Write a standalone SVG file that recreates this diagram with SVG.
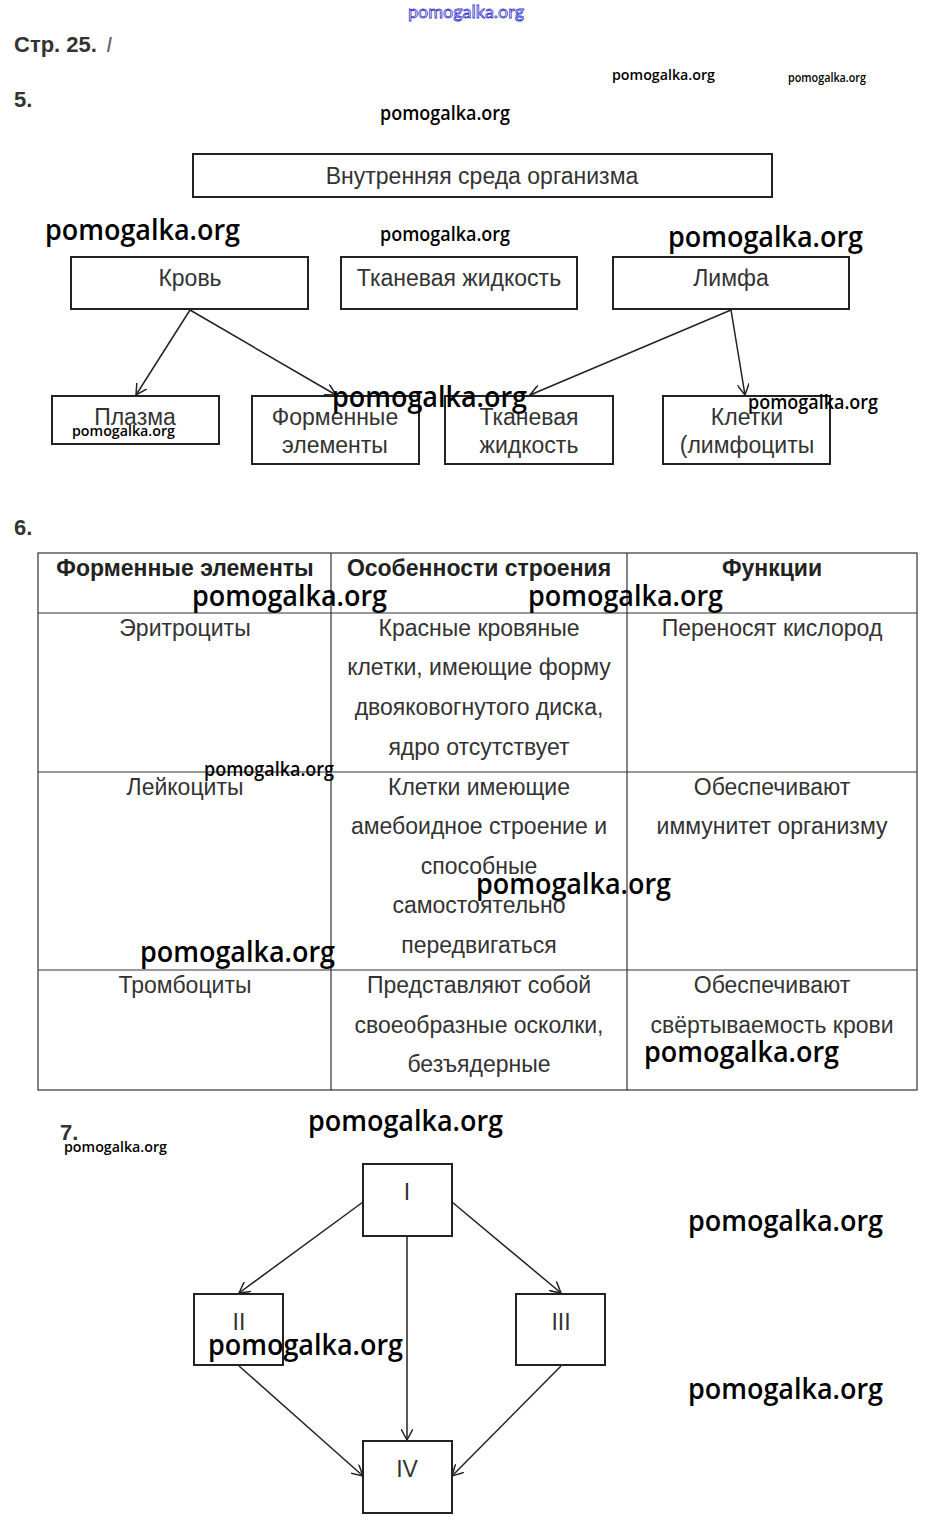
<svg xmlns="http://www.w3.org/2000/svg" width="930" height="1535" viewBox="0 0 930 1535">
<style>
.bg{fill:#fff}
.box{fill:#fff;stroke:#222;stroke-width:2}
.ln{stroke:#222;stroke-width:1.5;fill:none}
.t{font-family:"Liberation Sans",Arial,sans-serif;font-size:23px;fill:#333;text-anchor:middle}
.h{font-family:"Liberation Sans",Arial,sans-serif;font-size:23px;font-weight:bold;fill:#222;text-anchor:middle}
.num{font-family:"Liberation Sans",Arial,sans-serif;font-size:22px;font-weight:bold;fill:#333}
.wm{font-family:"Open Sans",Lato,sans-serif;font-weight:600;fill:#000}
.grid{stroke:#333;stroke-width:1.2;fill:none}
</style>
<defs>
<marker id="arr" viewBox="0 0 12 12" refX="11" refY="6" markerWidth="12" markerHeight="12" markerUnits="userSpaceOnUse" orient="auto">
<path d="M0,0 L11,6 L0,12" fill="none" stroke="#222" stroke-width="1.5"/>
</marker>
</defs>
<rect class="bg" x="0" y="0" width="930" height="1535"/>

<g id="header">
<text x="466" y="18" font-family="Lato,sans-serif" font-size="18" text-anchor="middle" fill="#fff" stroke="#3333cc" stroke-width="0.8" textLength="116" lengthAdjust="spacingAndGlyphs">pomogalka.org</text>
<text class="num" x="14" y="52">Стр. 25.</text>
<text x="106" y="52" font-family="Liberation Sans,sans-serif" font-size="22" fill="#666" font-style="italic">I</text>
<text class="wm" x="612" y="80" font-size="15" textLength="103" lengthAdjust="spacingAndGlyphs">pomogalka.org</text>
<text class="wm" x="788" y="82" font-size="12" textLength="78" lengthAdjust="spacingAndGlyphs">pomogalka.org</text>
<text class="num" x="14" y="107">5.</text>
<text class="wm" x="380" y="120" font-size="19" textLength="130" lengthAdjust="spacingAndGlyphs">pomogalka.org</text>
</g>

<g id="connectors5">
<line class="ln" x1="190" y1="310" x2="136" y2="395" marker-end="url(#arr)"/>
<line class="ln" x1="190" y1="310" x2="336" y2="395" marker-end="url(#arr)"/>
<line class="ln" x1="731" y1="310" x2="530" y2="395" marker-end="url(#arr)"/>
<line class="ln" x1="731" y1="310" x2="745" y2="395" marker-end="url(#arr)"/>
</g>

<g id="n-root"><rect class="box" x="193" y="154" width="579" height="43"/><text class="t" x="482" y="184">Внутренняя среда организма</text></g>
<g id="n-blood"><rect class="box" x="71" y="257" width="237" height="52"/><text class="t" x="190" y="286">Кровь</text></g>
<g id="n-tissue"><rect class="box" x="341" y="257" width="236" height="52"/><text class="t" x="459" y="286">Тканевая жидкость</text></g>
<g id="n-lymph"><rect class="box" x="613" y="257" width="236" height="52"/><text class="t" x="731" y="286">Лимфа</text></g>
<g id="n-plasma"><rect class="box" x="52" y="396" width="167" height="48"/><text class="t" x="135" y="425">Плазма</text></g>
<g id="n-formed"><rect class="box" x="252" y="396" width="167" height="68"/><text class="t" x="335" y="425">Форменные</text><text class="t" x="335" y="453">элементы</text></g>
<g id="n-tissue2"><rect class="box" x="445" y="396" width="168" height="68"/><text class="t" x="529" y="425">Тканевая</text><text class="t" x="529" y="453">жидкость</text></g>
<g id="n-cells"><rect class="box" x="663" y="396" width="167" height="68"/><text class="t" x="747" y="425">Клетки</text><text class="t" x="747" y="453">(лимфоциты</text></g>

<g id="wm5">
<text class="wm" x="45" y="240" font-size="28" textLength="195" lengthAdjust="spacingAndGlyphs">pomogalka.org</text>
<text class="wm" x="380" y="241" font-size="19" textLength="130" lengthAdjust="spacingAndGlyphs">pomogalka.org</text>
<text class="wm" x="668" y="247" font-size="28" textLength="195" lengthAdjust="spacingAndGlyphs">pomogalka.org</text>
<text class="wm" x="72" y="436" font-size="15" textLength="103" lengthAdjust="spacingAndGlyphs">pomogalka.org</text>
<text class="wm" x="332" y="407" font-size="28" textLength="195" lengthAdjust="spacingAndGlyphs">pomogalka.org</text>
<text class="wm" x="748" y="409" font-size="19" textLength="130" lengthAdjust="spacingAndGlyphs">pomogalka.org</text>
</g>

<text class="num" x="14" y="535">6.</text>

<g id="table">
<rect class="grid" x="38" y="553" width="879" height="537"/>
<line class="grid" x1="331" y1="553" x2="331" y2="1090"/>
<line class="grid" x1="627" y1="553" x2="627" y2="1090"/>
<line class="grid" x1="38" y1="613" x2="917" y2="613"/>
<line class="grid" x1="38" y1="772" x2="917" y2="772"/>
<line class="grid" x1="38" y1="970" x2="917" y2="970"/>
<text class="h" x="185" y="576">Форменные элементы</text>
<text class="h" x="479" y="576">Особенности строения</text>
<text class="h" x="772" y="576">Функции</text>
<text class="t" x="185" y="636">Эритроциты</text>
<text class="t" x="479" y="636">Красные кровяные</text>
<text class="t" x="479" y="675">клетки, имеющие форму</text>
<text class="t" x="479" y="715">двояковогнутого диска,</text>
<text class="t" x="479" y="755">ядро отсутствует</text>
<text class="t" x="772" y="636">Переносят кислород</text>
<text class="t" x="185" y="795">Лейкоциты</text>
<text class="t" x="479" y="795">Клетки имеющие</text>
<text class="t" x="479" y="834">амебоидное строение и</text>
<text class="t" x="479" y="874">способные</text>
<text class="t" x="479" y="913">самостоятельно</text>
<text class="t" x="479" y="953">передвигаться</text>
<text class="t" x="772" y="795">Обеспечивают</text>
<text class="t" x="772" y="834">иммунитет организму</text>
<text class="t" x="185" y="993">Тромбоциты</text>
<text class="t" x="479" y="993">Представляют собой</text>
<text class="t" x="479" y="1033">своеобразные осколки,</text>
<text class="t" x="479" y="1072">безъядерные</text>
<text class="t" x="772" y="993">Обеспечивают</text>
<text class="t" x="772" y="1033">свёртываемость крови</text>
</g>

<g id="wm6">
<text class="wm" x="192" y="606" font-size="28" textLength="195" lengthAdjust="spacingAndGlyphs">pomogalka.org</text>
<text class="wm" x="528" y="606" font-size="28" textLength="195" lengthAdjust="spacingAndGlyphs">pomogalka.org</text>
<text class="wm" x="204" y="776" font-size="19" textLength="130" lengthAdjust="spacingAndGlyphs">pomogalka.org</text>
<text class="wm" x="476" y="894" font-size="28" textLength="195" lengthAdjust="spacingAndGlyphs">pomogalka.org</text>
<text class="wm" x="140" y="962" font-size="28" textLength="195" lengthAdjust="spacingAndGlyphs">pomogalka.org</text>
<text class="wm" x="644" y="1062" font-size="28" textLength="195" lengthAdjust="spacingAndGlyphs">pomogalka.org</text>
</g>

<text class="num" x="60" y="1140">7.</text>

<g id="connectors7">
<line class="ln" x1="363" y1="1202" x2="239" y2="1293" marker-end="url(#arr)"/>
<line class="ln" x1="452" y1="1202" x2="561" y2="1293" marker-end="url(#arr)"/>
<line class="ln" x1="407" y1="1236" x2="407" y2="1440" marker-end="url(#arr)"/>
<line class="ln" x1="239" y1="1366" x2="363" y2="1476" marker-end="url(#arr)"/>
<line class="ln" x1="561" y1="1366" x2="452" y2="1476" marker-end="url(#arr)"/>
</g>

<g id="n-I"><rect class="box" x="363" y="1164" width="89" height="72"/><text class="t" x="407" y="1200">I</text></g>
<g id="n-II"><rect class="box" x="194" y="1294" width="89" height="71"/><text class="t" x="239" y="1330">II</text></g>
<g id="n-III"><rect class="box" x="516" y="1294" width="89" height="71"/><text class="t" x="561" y="1330">III</text></g>
<g id="n-IV"><rect class="box" x="363" y="1441" width="89" height="72"/><text class="t" x="407" y="1477">IV</text></g>

<g id="wm7">
<text class="wm" x="64" y="1152" font-size="15" textLength="103" lengthAdjust="spacingAndGlyphs">pomogalka.org</text>
<text class="wm" x="308" y="1131" font-size="28" textLength="195" lengthAdjust="spacingAndGlyphs">pomogalka.org</text>
<text class="wm" x="688" y="1231" font-size="28" textLength="195" lengthAdjust="spacingAndGlyphs">pomogalka.org</text>
<text class="wm" x="208" y="1355" font-size="28" textLength="195" lengthAdjust="spacingAndGlyphs">pomogalka.org</text>
<text class="wm" x="688" y="1399" font-size="28" textLength="195" lengthAdjust="spacingAndGlyphs">pomogalka.org</text>
</g>
</svg>
